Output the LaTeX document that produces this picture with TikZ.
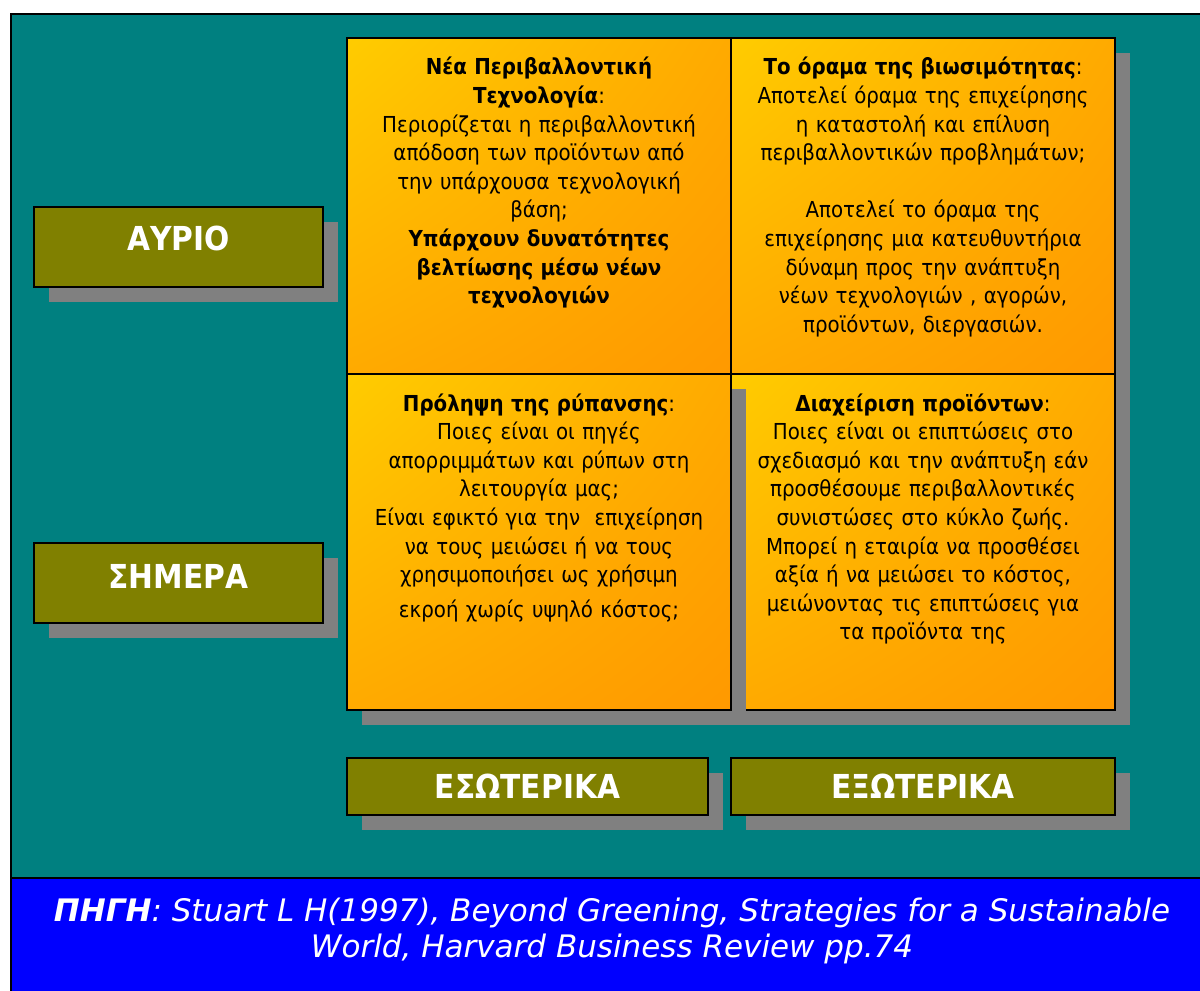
\documentclass[tikz,border=0pt]{standalone}
\usepackage{fontspec}
\setmainfont{DejaVu Sans}
\newfontfamily\cellfont[FakeStretch=0.9]{DejaVu Sans}
\usetikzlibrary{positioning, shadings}

\definecolor{sea}{HTML}{008080}
\definecolor{olivebox}{HTML}{808000}
\definecolor{shadowgray}{HTML}{808080}
\definecolor{sunyellow}{HTML}{FFCC00}
\definecolor{sunmid}{HTML}{FFAA00}
\definecolor{sunorange}{HTML}{FF9900}
\definecolor{sourceblue}{HTML}{0000FF}

\begin{document}
\begin{tikzpicture}[
  x=0.5pt, y=-0.5pt,
  shadowed/.style={preaction={fill=shadowgray, transform canvas={shift={(7.5pt,-7.5pt)}}}},
  cell/.style={shadowed, rectangle, draw, line width=0.8pt, inner sep=0pt, outer sep=0pt,
    minimum width=192pt, minimum height=168pt,
    upper left=sunyellow, upper right=sunmid, lower left=sunmid, lower right=sunorange},
  celltext/.style={align=center, text width=190pt, inner sep=0pt,
    font=\cellfont\fontsize{11}{14.3}\selectfont},
  tag/.style={shadowed, rectangle, draw, line width=0.8pt, fill=olivebox, text=white,
    inner sep=0pt, minimum width=144.5pt, minimum height=40pt,
    font=\cellfont\bfseries\fontsize{16.5}{19}\selectfont},
  source/.style={align=center, text=white, inner sep=0pt,
    font=\fontsize{15.5}{18}\selectfont\itshape}
]
\useasboundingbox (0,0) rectangle (1200,991);

\draw[fill=sea, line width=0.8pt] (11,14) rectangle (1210,878);
\draw[fill=sourceblue, line width=0.8pt] (11,878) rectangle (1210,1000);

\node[cell] (ul) at (539,206) {};
\node[cell] (ur) at (923,206) {};
\node[cell] (lr) at (923,542) {};
\node[cell] (ll) at (539,542) {};

\node[celltext, below=9.5pt of ul.north] (ultext) {%
  \textbf{Νέα Περιβαλλοντική}\\
  \textbf{Τεχνολογία}:\\
  Περιορίζεται η περιβαλλοντική\\
  απόδοση των προϊόντων από\\
  την υπάρχουσα τεχνολογική\\
  βάση;\\
  \textbf{Υπάρχουν δυνατότητες}\\
  \textbf{βελτίωσης μέσω νέων}\\
  \textbf{τεχνολογιών}};
\node[celltext, below=9.5pt of ur.north] (urtext) {%
  \textbf{Το όραμα της βιωσιμότητας}:\\
  Αποτελεί όραμα της επιχείρησης\\
  η καταστολή και επίλυση\\
  περιβαλλοντικών προβλημάτων;\\[14.3pt]
  Αποτελεί το όραμα της\\
  επιχείρησης μια κατευθυντήρια\\
  δύναμη προς την ανάπτυξη\\
  νέων τεχνολογιών , αγορών,\\
  προϊόντων, διεργασιών.};
\node[celltext, below=9.5pt of ll.north] (lltext) {%
  \textbf{Πρόληψη της ρύπανσης}:\\
  Ποιες είναι οι πηγές\\
  απορριμμάτων και ρύπων στη\\
  λειτουργία μας;\\
  Είναι εφικτό για την \ επιχείρηση\\
  να τους μειώσει ή να τους\\
  χρησιμοποιήσει ως χρήσιμη\\[3pt]
  εκροή χωρίς υψηλό κόστος;};
\node[celltext, below=9.5pt of lr.north] (lrtext) {%
  \textbf{Διαχείριση προϊόντων}:\\
  Ποιες είναι οι επιπτώσεις στο\\
  σχεδιασμό και την ανάπτυξη εάν\\
  προσθέσουμε περιβαλλοντικές\\
  συνιστώσες στο κύκλο ζωής.\\
  Μπορεί η εταιρία να προσθέσει\\
  αξία ή να μειώσει το κόστος,\\
  μειώνοντας τις επιπτώσεις για\\
  τα προϊόντα της};

\node[tag, text depth=9pt] (tomorrow) at (178.5,247) {ΑΥΡΙΟ};
\node[tag, text depth=7pt] (today) at (178.5,583) {ΣΗΜΕΡΑ};
\node[tag, minimum width=180.5pt, minimum height=28.5pt] (internal) at (527.5,786.5) {ΕΣΩΤΕΡΙΚΑ};
\node[tag, minimum width=192pt, minimum height=28.5pt] (external) at (923,786.5) {ΕΞΩΤΕΡΙΚΑ};

\node[source] (src) at (612,931) {%
  \textbf{ΠΗΓΗ}: Stuart L H(1997), Beyond Greening, Strategies for a Sustainable\\
  World, Harvard Business Review pp.74};
\end{tikzpicture}
\end{document}
